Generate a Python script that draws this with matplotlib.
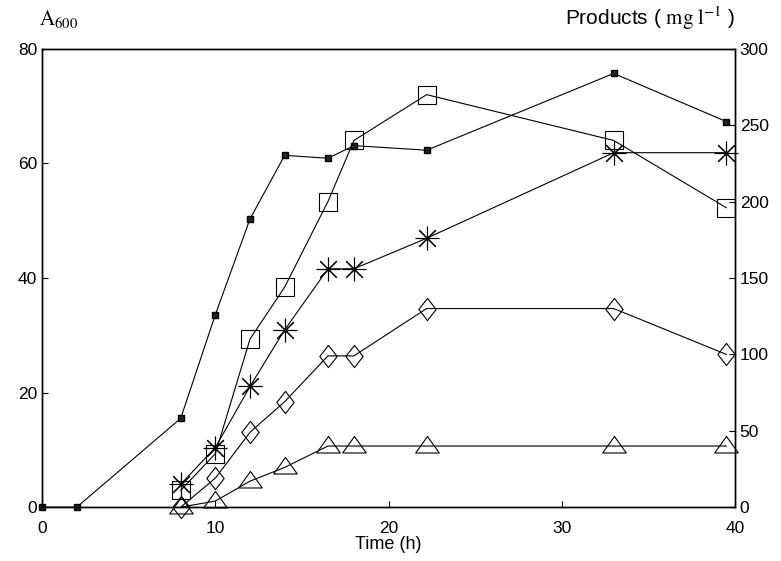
import matplotlib.pyplot as plt
from matplotlib.path import Path
import numpy as np

plt.rcParams['font.family'] = ['Liberation Sans', 'DejaVu Sans']
plt.rcParams['mathtext.fontset'] = 'stix'

# tiempo de muestreo (h)
t_a600 = [0, 2, 8, 10, 12, 14, 16.5, 18, 22.2, 33, 39.5]
a600 = [0, 0, 15.5, 33.6, 50.3, 61.4, 60.9, 63.1, 62.3, 75.7, 67.3]

t_prod = [8, 10, 12, 14, 16.5, 18, 22.2, 33, 39.5]
cuadros = [11, 35, 110, 144, 200, 240, 270, 240, 196]
estrellas = [15, 39, 79, 116, 156, 156, 176, 232, 232]
rombos = [0, 19, 49, 69, 99, 99, 130, 130, 100]
triangulos = [0, 4, 17, 26, 40, 40, 40, 40, 40]

# marcadores del dibujo original
rombo = Path([(0, 1), (0.78, 0), (0, -1), (-0.78, 0), (0, 1)],
             [Path.MOVETO, Path.LINETO, Path.LINETO, Path.LINETO, Path.CLOSEPOLY])
triangulo = Path([(-1, -0.55), (1, -0.55), (0, 0.85), (-1, -0.55)],
                 [Path.MOVETO, Path.LINETO, Path.LINETO, Path.CLOSEPOLY])

fig = plt.figure(figsize=(7.81, 5.61), dpi=100)
ax = fig.add_axes([0.054, 0.096, 0.887, 0.817])
ax2 = ax.twinx()

lw = 0.8
ax.plot(t_a600, a600, '-', color='black', lw=lw, marker='s', ms=4,
        mfc='#222222', mec='black', zorder=5, clip_on=False)

ax2.plot(t_prod, cuadros, '-', color='black', lw=lw, marker='s', ms=13,
         mfc='none', mec='black', mew=0.8, clip_on=False)
ax2.plot(t_prod, estrellas, '-', color='black', lw=lw, marker=(8, 2, 0), ms=17,
         mec='black', mew=0.8, clip_on=False)
ax2.plot(t_prod, rombos, '-', color='black', lw=lw, marker=rombo, ms=16,
         mfc='none', mec='black', mew=0.8, clip_on=False)
ax2.plot(t_prod, triangulos, '-', color='black', lw=lw, marker=triangulo, ms=17,
         mfc='none', mec='black', mew=0.8, clip_on=False)

ax.set_xlim(0, 40)
ax.set_ylim(0, 80)
ax2.set_ylim(0, 300)
ax.set_xticks([0, 10, 20, 30, 40])
ax.set_yticks([0, 20, 40, 60, 80])
ax2.set_yticks([0, 50, 100, 150, 200, 250, 300])

for a in (ax, ax2):
    a.tick_params(direction='in', labelsize=12.5, length=4, width=0.8)
    for s in a.spines.values():
        s.set_linewidth(1.0)
ax.tick_params(axis='x', pad=10)

ax.set_xlabel('Time (h)', fontsize=13, labelpad=0)
fig.text(0.05, 0.955, r'$\mathrm{A_{600}}$', fontsize=15)
fig.text(0.942, 0.955, r'Products ( $\mathrm{mg\ l^{-1}}$ )', fontsize=15, ha='right')

fig.savefig('out.png', dpi=100)
